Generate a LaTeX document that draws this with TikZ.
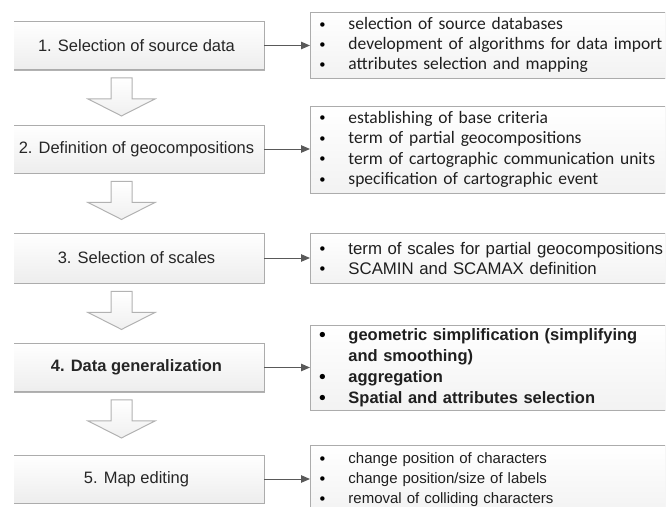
\documentclass[tikz,border=0pt]{standalone}
\usepackage{fontspec}
\setmainfont{Liberation Sans}
\newfontfamily\calibfont{Carlito}
\usetikzlibrary{arrows.meta,shadows}
\tikzset{
	stage/.style={rectangle,draw=gray!65,line width=0.9pt,top color=white,bottom color=gray!14,minimum width=255pt,minimum height=48pt,text=black!85,font=\fontsize{16.5}{19}\selectfont,drop shadow={shadow xshift=1.2pt,shadow yshift=-1.2pt,fill=gray!75,opacity=.8}},
	info/.style={rectangle,draw=gray!65,line width=0.9pt,top color=white,bottom color=gray!10,minimum width=380pt,text width=362pt,inner xsep=9pt,inner ysep=0pt,align=left,anchor=west,text=black!88,drop shadow={shadow xshift=1.2pt,shadow yshift=-1.2pt,fill=gray!75,opacity=.8}},
	link/.style={draw=black!65,line width=1pt,-{Triangle[length=9pt,width=7.5pt]}},
	hollow/.style={draw=gray!60,line width=1pt,top color=white,bottom color=gray!12,line join=miter}
}
\newcommand\bul{\makebox[29pt][l]{\raisebox{1.5pt}{\color{black}\calibfont\fontsize{12.5}{12.5}\selectfont\textbullet}}}

\begin{document}
\begin{tikzpicture}[x=1pt,y=-1pt]
	\useasboundingbox (0,0) rectangle (669,506);
	\begin{scope}
		\clip (14,0) rectangle (665,506);

		\node [stage] (s1) at (136.5,45.5) {1. Selection of source data};
		\node [stage] (s2) at (136.5,149) {2. Definition of geocompositions};
		\node [stage,minimum height=50pt] (s3) at (136.5,258) {3. Selection of scales};
		\node [stage,font=\fontsize{16.5}{19}\selectfont\bfseries] (s4) at (136.5,367.5) {4. Data generalization};
		\node [stage] (s5) at (136.5,479) {5. Map editing};

		\node [info,minimum height=66pt,font=\calibfont\fontsize{17.5}{20}\selectfont] (d1) at (310,45) {\bul selection of source databases\\\bul development of algorithms for data import\\\bul attributes selection and mapping};
		\node [info,minimum height=87pt,font=\calibfont\fontsize{17.5}{20.5}\selectfont] (d2) at (310,149.5) {\bul establishing of base criteria\\\bul term of partial geocompositions\\\bul term of cartographic communication units\\\bul specification of cartographic event};
		\node [info,minimum height=50pt,font=\fontsize{16.8}{20}\selectfont] (d3) at (310,258) {\bul term of scales for partial geocompositions\\\bul SCAMIN and SCAMAX definition};
		\node [info,minimum height=85pt,font=\fontsize{16.5}{21}\selectfont\bfseries] (d4) at (310,367.5) {\bul geometric simplification (simplifying\\\hspace*{29pt}and smoothing)\\\bul aggregation\\\bul Spatial and attributes selection};
		\node [info,minimum height=70pt,font=\fontsize{15}{20}\selectfont] (d5) at (310,480) {\bul change position of characters\\\bul change position/size of labels\\\bul removal of colliding characters};

		\foreach \n in {1,...,5}
			\draw [link] (s\n.east) -- (s\n.east -| d\n.west);

		\foreach \a in {s1,s2,s3,s4}
			\draw [hollow,shift={(\a.south)}] (-25.5,8) -- (-4.5,8) -- (-4.5,29) -- (18.5,29) -- (-15,46) -- (-48.5,29) -- (-25.5,29) -- cycle;
	\end{scope}
\end{tikzpicture}
\end{document}
